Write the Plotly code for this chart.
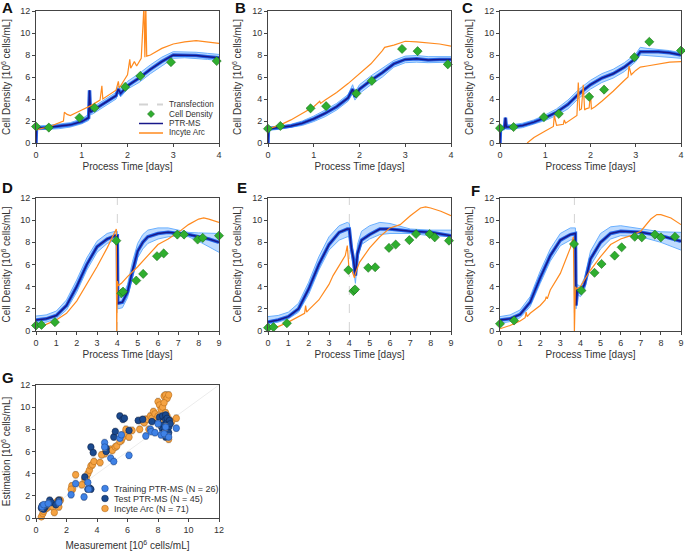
import plotly.graph_objects as go

# ---------------- data ----------------
# Panel A
a_ptr_t = [0, 0.01, 0.25, 0.5, 0.75, 1.0, 1.15, 1.17, 1.19, 1.22, 1.3, 1.5, 1.75, 1.8, 1.85, 2.0, 2.25, 2.5, 2.75, 3.0, 3.25, 3.5, 3.75, 4.0]
a_ptr_c = [0, 1.35, 1.4, 1.5, 1.65, 1.95, 2.3, 4.8, 2.8, 2.9, 3.1, 3.6, 4.3, 4.9, 4.5, 5.2, 5.9, 6.7, 7.4, 8.0, 8.0, 7.95, 7.85, 7.75]
a_ptr_u = [0, 1.55, 1.6, 1.7, 1.85, 2.2, 2.6, 4.8, 3.1, 3.2, 3.4, 3.9, 4.6, 5.2, 4.9, 5.6, 6.3, 7.1, 7.8, 8.3, 8.3, 8.25, 8.15, 8.05]
a_ptr_l = [0, 1.2, 1.25, 1.3, 1.45, 1.75, 2.05, 4.8, 2.6, 2.6, 2.8, 3.3, 4.0, 4.6, 4.2, 4.9, 5.5, 6.3, 7.0, 7.7, 7.75, 7.7, 7.6, 7.5]
a_arc_t = [0, 0.3, 0.6, 0.62, 0.68, 0.75, 1.0, 1.2, 1.4, 1.44, 1.46, 1.5, 1.75, 1.8, 1.82, 2.0, 2.05, 2.07, 2.15, 2.2, 2.3, 2.36, 2.38, 2.4, 2.42, 2.5, 2.75, 3.0, 3.25, 3.5, 3.75, 4.0]
a_arc_v = [1.2, 1.5, 2.0, 2.8, 2.6, 2.5, 3.0, 3.4, 3.9, 5.2, 4.0, 4.1, 4.8, 5.6, 5.0, 6.2, 7.6, 6.8, 7.4, 7.0, 7.7, 12.5, 7.8, 12.5, 7.9, 8.0, 8.6, 9.0, 9.2, 9.3, 9.2, 9.05]
a_cd_t = [0, 0.28, 0.95, 1.28, 1.95, 2.28, 2.95, 3.95]
a_cd_v = [1.5, 1.4, 2.3, 3.2, 5.1, 6.1, 7.35, 7.45]

# Panel B
b_ptr_t = [0, 0.01, 0.25, 0.5, 0.75, 1.0, 1.25, 1.5, 1.75, 1.85, 1.9, 2.0, 2.25, 2.5, 2.75, 3.0, 3.25, 3.5, 3.75, 4.0]
b_ptr_c = [0, 1.3, 1.4, 1.55, 1.8, 2.2, 2.7, 3.3, 4.1, 4.9, 4.2, 4.9, 5.7, 6.4, 7.2, 7.6, 7.65, 7.55, 7.6, 7.6]
b_ptr_u = [0, 1.45, 1.55, 1.7, 2.0, 2.45, 3.0, 3.6, 4.4, 5.3, 4.6, 5.3, 6.1, 6.8, 7.5, 7.9, 7.95, 7.85, 7.85, 7.85]
b_ptr_l = [0, 1.15, 1.25, 1.4, 1.6, 1.95, 2.4, 3.0, 3.8, 4.5, 3.9, 4.5, 5.3, 6.0, 6.9, 7.3, 7.35, 7.3, 7.3, 7.35]
b_arc_t = [0, 0.25, 0.5, 0.75, 1.0, 1.13, 1.15, 1.25, 1.5, 1.75, 2.0, 2.25, 2.5, 2.55, 2.75, 3.0, 3.25, 3.5, 3.75, 4.0]
b_arc_v = [1.3, 1.6, 2.1, 2.7, 3.3, 3.8, 3.6, 3.9, 4.6, 5.4, 6.3, 7.2, 8.4, 8.7, 8.9, 9.25, 9.2, 9.1, 9.0, 8.8]
b_cd_t = [0, 0.27, 0.93, 1.27, 1.93, 2.27, 2.93, 3.27, 3.93]
b_cd_v = [1.3, 1.55, 3.15, 3.35, 4.5, 5.65, 8.55, 8.35, 7.15]

# Panel C
c_ptr_t = [0, 0.01, 0.1, 0.12, 0.14, 0.25, 0.5, 0.75, 1.0, 1.25, 1.5, 1.75, 2.0, 2.25, 2.5, 2.75, 3.0, 3.1, 3.25, 3.5, 3.75, 4.0]
c_ptr_c = [0, 1.3, 1.4, 2.3, 1.45, 1.45, 1.6, 1.9, 2.3, 2.8, 3.5, 4.5, 5.3, 5.9, 6.3, 6.9, 7.7, 8.3, 8.3, 8.3, 8.2, 8.0]
c_ptr_u = [0, 1.5, 1.6, 2.3, 1.65, 1.65, 1.8, 2.1, 2.55, 3.1, 3.9, 4.9, 5.7, 6.3, 6.7, 7.3, 8.1, 8.7, 8.6, 8.5, 8.4, 8.2]
c_ptr_l = [0, 1.1, 1.2, 2.3, 1.25, 1.25, 1.4, 1.7, 2.05, 2.5, 3.1, 4.1, 4.9, 5.5, 5.9, 6.5, 7.4, 8.0, 7.95, 7.9, 7.8, 7.7]
c_arc_t = [0.6, 0.75, 1.0, 1.18, 1.2, 1.25, 1.4, 1.42, 1.45, 1.6, 1.7, 1.73, 1.76, 1.8, 1.84, 1.87, 1.9, 1.97, 2.0, 2.02, 2.1, 2.25, 2.5, 2.75, 2.83, 2.85, 2.9, 3.0, 3.1, 3.25, 3.5, 3.75, 4.0]
c_arc_v = [0.0, 0.5, 1.1, 1.5, 2.5, 1.6, 1.7, 2.1, 1.8, 2.2, 2.5, 5.5, 3.0, 3.1, 5.3, 3.0, 3.1, 3.2, 4.5, 3.1, 3.3, 3.8, 4.7, 5.7, 6.0, 7.0, 6.2, 6.6, 6.9, 7.0, 7.2, 7.35, 7.4]
c_cd_t = [0, 0.3, 0.97, 1.3, 1.97, 2.3, 2.97, 3.3, 4.0]
c_cd_v = [1.35, 1.45, 2.35, 2.65, 4.2, 4.85, 7.8, 9.2, 8.4]

# Panel D
d_ptr_t = [0, 0.5, 1.0, 1.5, 2.0, 2.5, 3.0, 3.5, 3.9, 4.0, 4.02, 4.25, 4.5, 4.75, 5.0, 5.25, 5.5, 6.0, 6.5, 7.0, 7.5, 8.0, 8.5, 9.0]
d_ptr_c = [1.0, 1.1, 1.4, 2.3, 4.0, 6.0, 7.6, 8.3, 8.6, 8.6, 2.5, 2.6, 3.5, 5.5, 7.2, 8.0, 8.5, 8.8, 8.9, 8.8, 8.7, 8.5, 8.3, 8.0]
d_ptr_u = [1.35, 1.45, 1.8, 2.8, 4.6, 6.6, 8.1, 8.8, 9.0, 9.0, 3.0, 3.1, 4.2, 6.3, 7.9, 8.7, 9.1, 9.3, 9.3, 9.1, 8.9, 8.85, 8.8, 8.8]
d_ptr_l = [0.7, 0.8, 1.1, 1.9, 3.5, 5.5, 7.1, 7.9, 8.2, 8.2, 2.0, 2.1, 3.0, 4.8, 6.6, 7.4, 7.9, 8.3, 8.5, 8.6, 8.5, 8.1, 7.6, 7.1]
d_arc_t = [0, 0.5, 1.0, 1.5, 2.0, 2.5, 3.0, 3.5, 3.9, 3.95, 3.97, 4.0, 4.05, 4.2, 4.5, 5.0, 5.5, 6.0, 6.5, 7.0, 7.5, 8.0, 8.25, 8.5, 9.0]
d_arc_v = [0.4, 0.6, 1.0, 1.6, 2.7, 4.2, 5.8, 7.5, 8.9, 9.2, 0.0, 4.5, 4.1, 4.3, 4.9, 5.8, 6.8, 7.8, 8.3, 8.9, 9.6, 10.1, 10.2, 10.1, 9.8]
d_cd_t = [0, 0.27, 0.93, 3.95, 4.2, 4.28, 4.93, 5.27, 5.95, 6.28, 6.95, 7.28, 7.95, 8.2, 9.0]
d_cd_v = [0.5, 0.55, 0.8, 8.15, 3.4, 3.55, 4.55, 5.15, 6.75, 7.0, 8.7, 8.7, 8.25, 8.4, 8.6]

# Panel E
e_ptr_t = [0, 0.5, 1.0, 1.5, 2.0, 2.5, 3.0, 3.5, 3.9, 4.0, 4.1, 4.2, 4.3, 4.4, 4.6, 5.0, 5.5, 6.0, 7.0, 8.0, 9.0]
e_ptr_c = [0.8, 1.0, 1.3, 2.0, 3.8, 6.0, 7.8, 8.9, 9.2, 9.2, 7.5, 6.5, 5.0, 7.0, 8.2, 8.7, 9.2, 9.2, 9.0, 8.9, 8.6]
e_ptr_u = [1.3, 1.4, 1.7, 2.5, 4.4, 6.7, 8.5, 9.5, 9.8, 9.7, 8.0, 7.0, 5.5, 7.8, 9.0, 9.5, 9.8, 9.7, 9.2, 9.1, 9.1]
e_ptr_l = [0.6, 0.8, 1.1, 1.7, 3.3, 5.5, 7.3, 8.2, 8.5, 8.5, 7.0, 5.8, 4.3, 6.5, 7.8, 8.3, 8.7, 8.8, 8.8, 8.6, 8.5]
e_arc_t = [0, 0.5, 1.0, 1.5, 1.8, 1.85, 1.9, 2.0, 2.5, 3.0, 3.2, 3.5, 3.8, 3.9, 4.0, 4.1, 4.25, 4.3, 4.5, 5.0, 5.5, 6.0, 6.5, 7.0, 7.5, 7.75, 8.0, 8.5, 9.0]
e_arc_v = [0.2, 0.4, 0.8, 1.3, 1.6, 2.3, 1.7, 1.9, 2.8, 4.2, 5.0, 5.9, 6.8, 7.7, 5.2, 5.6, 4.8, 5.2, 6.2, 7.5, 8.5, 9.3, 9.6, 10.4, 11.1, 11.2, 11.1, 10.8, 10.4]
e_cd_t = [0, 0.27, 0.93, 3.95, 4.2, 4.28, 4.93, 5.27, 5.95, 6.28, 6.95, 7.28, 7.95, 8.2, 8.9]
e_cd_v = [0.3, 0.35, 0.7, 5.5, 3.6, 3.75, 5.7, 5.75, 7.5, 7.8, 8.2, 8.75, 8.75, 8.45, 8.15]

# Panel F
f_ptr_t = [0, 0.5, 1.0, 1.5, 2.0, 2.5, 3.0, 3.5, 3.75, 3.78, 3.85, 4.0, 4.2, 4.5, 5.0, 5.5, 6.0, 7.0, 8.0, 9.0]
f_ptr_c = [1.0, 1.1, 1.5, 2.6, 4.8, 6.8, 8.2, 8.7, 8.8, 2.3, 3.7, 3.5, 4.2, 6.5, 8.0, 8.8, 9.0, 8.9, 8.6, 8.1]
f_ptr_u = [1.3, 1.45, 1.9, 3.1, 5.4, 7.4, 8.8, 9.3, 9.3, 2.8, 4.2, 4.0, 4.8, 7.2, 8.8, 9.4, 9.5, 9.2, 8.95, 8.9]
f_ptr_l = [0.7, 0.85, 1.2, 2.2, 4.3, 6.3, 7.7, 8.2, 8.3, 2.0, 3.3, 3.1, 3.7, 5.9, 7.4, 8.3, 8.6, 8.5, 8.0, 7.3]
f_arc_t = [0, 0.5, 1.0, 1.25, 1.3, 1.35, 1.5, 2.0, 2.25, 2.3, 2.35, 2.5, 3.0, 3.5, 3.65, 3.7, 3.75, 3.8, 4.0, 4.5, 5.0, 5.5, 6.0, 6.5, 7.0, 7.5, 7.8, 8.0, 8.5, 9.0]
f_arc_v = [0.2, 0.5, 0.9, 1.2, 1.7, 1.3, 1.6, 2.3, 2.8, 3.1, 2.9, 3.7, 5.2, 7.5, 8.5, 0.0, 4.0, 3.8, 4.0, 5.5, 6.7, 7.8, 8.3, 8.6, 9.0, 10.1, 10.5, 10.5, 10.2, 9.6]
f_cd_t = [0, 0.7, 3.68, 4.05, 4.7, 5.05, 5.7, 6.05, 6.7, 7.05, 7.7, 8.0, 8.7]
f_cd_v = [0.65, 0.95, 7.85, 3.65, 5.25, 6.05, 6.8, 7.55, 8.5, 8.45, 8.7, 8.45, 8.5]

transfection_t = {"D": 4.0, "E": 4.0, "F": 3.7}

# Panel G (scatter)
g_train_x = [0.4, 0.5, 0.8, 1.5, 2.3, 2.6, 3.15, 3.4, 3.45, 4.5, 4.5, 4.9, 5.1, 5.5, 5.6, 6.1, 7.2, 7.5, 7.55, 7.8, 8.2, 8.4, 8.5, 8.7, 9.2, 8.0]
g_train_y = [1.0, 1.2, 1.3, 1.4, 2.1, 3.1, 1.9, 3.2, 2.6, 6.8, 6.4, 5.4, 5.1, 7.2, 7.5, 5.65, 7.4, 8.0, 7.8, 7.7, 7.5, 7.6, 8.2, 7.3, 8.1, 8.5]
g_test_x = [0.35, 0.4, 0.5, 0.6, 0.7, 0.9, 1.0, 1.3, 1.5, 3.2, 3.4, 3.5, 3.6, 3.6, 3.75, 4.6, 4.6, 5.1, 5.2, 5.5, 5.7, 5.8, 6.1, 6.7, 7.0,
            7.6, 8.0, 8.1, 8.2, 8.3, 8.3, 8.4, 8.4, 8.5, 8.5, 8.55, 8.6, 8.6, 8.6, 8.7, 8.7, 8.75, 8.5, 8.3, 8.8]
g_test_y = [0.9, 1.1, 0.8, 1.0, 1.2, 1.6, 1.4, 1.2, 1.6, 3.7, 2.6, 2.7, 6.4, 2.6, 5.9, 6.3, 6.0, 7.3, 7.8, 9.2, 8.9, 9.0, 7.9, 8.8, 8.9,
            8.7, 8.6, 9.1, 8.3, 8.0, 9.2, 8.4, 7.8, 8.9, 9.3, 8.1, 7.6, 8.6, 9.0, 8.2, 7.7, 8.8, 7.3, 7.6, 8.5]
g_arc_x = [0.35, 0.45, 0.5, 0.6, 0.7, 0.8, 0.9, 1.0, 1.1, 1.2, 1.3, 1.4, 1.5, 1.6, 1.5, 2.35, 2.4, 2.6, 3.2, 3.3, 3.4, 3.5, 3.6, 3.7,
           3.8, 4.2, 4.5, 4.6, 4.9, 5.0, 5.2, 5.3, 5.6, 5.7, 5.8, 5.9, 6.1, 6.8, 6.9, 7.1, 7.2, 7.3, 7.5, 7.6, 7.7, 7.8, 7.9, 8.0,
           8.1, 8.2, 8.3, 8.4, 8.5, 8.6, 8.7, 8.4, 8.5, 8.6, 8.6, 8.7, 8.8, 8.9, 9.2, 8.3, 8.0, 7.4, 6.3, 5.5, 4.3, 3.0, 2.3]
g_arc_y = [0.1, 0.4, 0.6, 0.8, 0.9, 1.0, 1.1, 1.3, 1.0, 0.5, 1.3, 1.5, 1.6, 1.6, 1.0, 2.9, 2.6, 3.9, 3.5, 3.7, 4.0, 4.3, 4.7, 4.8,
           5.1, 5.0, 5.8, 6.1, 6.2, 6.1, 6.4, 6.5, 7.0, 7.3, 7.6, 8.0, 7.3, 8.0, 8.8, 8.6, 8.9, 8.9, 9.2, 9.0, 9.6, 9.4, 8.9, 10.5,
           10.2, 9.8, 10.0, 11.0, 11.1, 10.8, 11.1, 10.4, 9.5, 9.2, 8.3, 7.1, 8.8, 8.7, 9.0, 8.6, 9.2, 8.0, 7.9, 6.9, 5.7, 3.0, 2.6]
g_err = 0.3

# ---------------- styling ----------------
NAVY = "#18188a"
BRIGHT = "#2466ea"
BAND_LINE = "#6ab0ff"
BAND_FILL = "rgba(110,175,255,0.45)"
ORANGE = "#ff8a1e"
GREEN = "#2fae2f"
GREEN_EDGE = "#1d6e1d"
TRANS = "#d3d3d3"
C_TRAIN, C_TEST, C_ARC = "#3f82e6", "#1b4a8f", "#f5a343"
FONT = "Liberation Sans, Arial, sans-serif"

W, H = 685, 552
cols = [(36, 219), (268, 451), (500, 681)]
rows = [(11, 143), (198, 331), (385, 518)]

def px(x):
    return x / W

def py(y):
    return 1 - y / H

def xd(c):
    return [px(cols[c][0]), px(cols[c][1])]

def yd(r):
    return [py(rows[r][1]), py(rows[r][0])]

fig = go.Figure()

panels = [
    ("A", 0, 0, 4, a_ptr_t, a_ptr_c, a_ptr_u, a_ptr_l, a_arc_t, a_arc_v, a_cd_t, a_cd_v),
    ("B", 0, 1, 4, b_ptr_t, b_ptr_c, b_ptr_u, b_ptr_l, b_arc_t, b_arc_v, b_cd_t, b_cd_v),
    ("C", 0, 2, 4, c_ptr_t, c_ptr_c, c_ptr_u, c_ptr_l, c_arc_t, c_arc_v, c_cd_t, c_cd_v),
    ("D", 1, 0, 9, d_ptr_t, d_ptr_c, d_ptr_u, d_ptr_l, d_arc_t, d_arc_v, d_cd_t, d_cd_v),
    ("E", 1, 1, 9, e_ptr_t, e_ptr_c, e_ptr_u, e_ptr_l, e_arc_t, e_arc_v, e_cd_t, e_cd_v),
    ("F", 1, 2, 9, f_ptr_t, f_ptr_c, f_ptr_u, f_ptr_l, f_arc_t, f_arc_v, f_cd_t, f_cd_v),
]

TITLE_FONT = dict(size=10, color="#333", family=FONT)
axis_common = dict(showline=True, linecolor="#444", linewidth=1, mirror=True, ticks="outside",
                   ticklen=3, tickcolor="#444", showgrid=False, zeroline=False, automargin=False,
                   tickfont=dict(size=9, color="#333", family=FONT))

layout_axes = {}
for i, (name, r, c, xmax, pt, pc, pu, pl, at, av, ct, cv) in enumerate(panels):
    idx = i + 1
    xa = "x" if idx == 1 else f"x{idx}"
    ya = "y" if idx == 1 else f"y{idx}"
    if name in transfection_t:
        tt = transfection_t[name]
        fig.add_trace(go.Scatter(x=[tt, tt], y=[0, 12], mode="lines", xaxis=xa, yaxis=ya,
                                 line=dict(color=TRANS, width=1, dash="dash"), showlegend=False, hoverinfo="skip"))
    fig.add_trace(go.Scatter(x=pt, y=pl, mode="lines", xaxis=xa, yaxis=ya,
                             line=dict(color=BAND_LINE, width=1), showlegend=False, hoverinfo="skip"))
    fig.add_trace(go.Scatter(x=pt, y=pu, mode="lines", xaxis=xa, yaxis=ya, fill="tonexty", fillcolor=BAND_FILL,
                             line=dict(color=BAND_LINE, width=1), showlegend=False, hoverinfo="skip"))
    fig.add_trace(go.Scatter(x=pt, y=pc, mode="lines", xaxis=xa, yaxis=ya,
                             line=dict(color=BRIGHT, width=3.5), showlegend=False, hoverinfo="skip"))
    fig.add_trace(go.Scatter(x=pt, y=pc, mode="lines", xaxis=xa, yaxis=ya, name="PTR-MS",
                             line=dict(color=NAVY, width=1.5), showlegend=False))
    fig.add_trace(go.Scatter(x=at, y=av, mode="lines", xaxis=xa, yaxis=ya, name="Incyte Arc",
                             line=dict(color=ORANGE, width=1.2), showlegend=False))
    fig.add_trace(go.Scatter(x=ct, y=cv, mode="markers", xaxis=xa, yaxis=ya, name="Cell Density", cliponaxis=False,
                             marker=dict(symbol="diamond", size=7, color=GREEN, line=dict(color=GREEN_EDGE, width=0.6)),
                             showlegend=False))

    xkey = "xaxis" if idx == 1 else f"xaxis{idx}"
    ykey = "yaxis" if idx == 1 else f"yaxis{idx}"
    layout_axes[xkey] = dict(axis_common, domain=xd(c), anchor=ya, range=[0, xmax], dtick=1,
                             title=dict(text="Process Time [days]", font=TITLE_FONT, standoff=4))
    layout_axes[ykey] = dict(axis_common, domain=yd(r), anchor=xa, range=[0, 12], dtick=2,
                             title=dict(text="Cell Density [10<sup>6</sup> cells/mL]", font=TITLE_FONT, standoff=8))

# Panel G
gx, gy = "x7", "y7"
fig.add_trace(go.Scatter(x=[0, 12], y=[0, 12], mode="lines", xaxis=gx, yaxis=gy,
                         line=dict(color="#ececec", width=1), showlegend=False, hoverinfo="skip"))
errstyle = dict(type="constant", value=g_err, color="#999", thickness=0.8, width=2)
for gxv, gyv, col, edge, nm in [(g_arc_x, g_arc_y, C_ARC, "#b86d1a", "Incyte Arc (N = 71)"),
                               (g_test_x, g_test_y, C_TEST, "#0d2550", "Test PTR-MS (N = 45)"),
                               (g_train_x, g_train_y, C_TRAIN, "#1e4c99", "Training PTR-MS (N = 26)")]:
    fig.add_trace(go.Scatter(x=gxv, y=gyv, mode="markers", xaxis=gx, yaxis=gy, name=nm,
                             error_y=errstyle, cliponaxis=False,
                             marker=dict(size=6.5, color=col, line=dict(color=edge, width=0.6)),
                             showlegend=False))
layout_axes["xaxis7"] = dict(axis_common, domain=xd(0), anchor=gy, range=[0, 12], dtick=2,
                             title=dict(text="Measurement [10<sup>6</sup> cells/mL]", font=TITLE_FONT, standoff=8))
layout_axes["yaxis7"] = dict(axis_common, domain=yd(2), anchor=gx, range=[0, 12], dtick=2,
                             title=dict(text="Estimation [10<sup>6</sup> cells/mL]", font=TITLE_FONT, standoff=8))

# ---------------- manual legends ----------------
shapes = []
annotations = []
LEG_FONT = dict(size=8.2, color="#333", family=FONT)

# Legend of panel A
legA = [("Transfection", "dash", TRANS, 104.5), ("Cell Density", "diamond", GREEN, 114),
        ("PTR-MS", "line", NAVY, 123.5), ("Incyte Arc", "line", ORANGE, 133)]
for label, kind, col, yy in legA:
    if kind in ("dash", "line"):
        shapes.append(dict(type="line", xref="paper", yref="paper", x0=px(139), x1=px(163), y0=py(yy), y1=py(yy),
                           line=dict(color=col, width=1.5 if kind == "line" else 2, dash="dash" if kind == "dash" else "solid")))
    else:
        cx, cy, s = 151, yy, 3.5
        path = f"M {px(cx)},{py(cy - s)} L {px(cx + s)},{py(cy)} L {px(cx)},{py(cy + s)} L {px(cx - s)},{py(cy)} Z"
        shapes.append(dict(type="path", xref="paper", yref="paper", path=path, fillcolor=col,
                           line=dict(color=GREEN_EDGE, width=0.6)))
    annotations.append(dict(text=label, x=px(167), y=py(yy), xref="paper", yref="paper", showarrow=False,
                            xanchor="left", yanchor="middle", font=LEG_FONT))

# Legend of panel G
legG = [("Training PTR-MS (N = 26)", C_TRAIN, "#1e4c99", 488.5), ("Test PTR-MS (N = 45)", C_TEST, "#0d2550", 498.5),
        ("Incyte Arc (N = 71)", C_ARC, "#b86d1a", 508.5)]
for label, col, edge, yy in legG:
    r = 3.3
    shapes.append(dict(type="circle", xref="paper", yref="paper", x0=px(105 - r), x1=px(105 + r),
                       y0=py(yy + r), y1=py(yy - r), fillcolor=col, line=dict(color=edge, width=0.6)))
    annotations.append(dict(text=label, x=px(112), y=py(yy), xref="paper", yref="paper", showarrow=False,
                            xanchor="left", yanchor="middle", font=dict(size=9, color="#333", family=FONT)))

letters = [("A", 7, 8), ("B", 240, 8), ("C", 467, 8), ("D", 8, 187), ("E", 242, 187), ("F", 475, 190), ("G", 8, 377)]
for t, lx, ly in letters:
    annotations.append(dict(text=f"<b>{t}</b>", x=px(lx), y=py(ly), xref="paper", yref="paper", showarrow=False,
                            xanchor="center", yanchor="middle", font=dict(size=15, color="#111", family=FONT)))

fig.update_layout(
    width=W, height=H, margin=dict(l=0, r=0, t=0, b=0),
    paper_bgcolor="white", plot_bgcolor="white",
    font=dict(family=FONT, color="#333"),
    showlegend=False,
    shapes=shapes,
    annotations=annotations,
    **layout_axes,
)

fig.write_html("out.html", config={"displayModeBar": False},
               post_script="document.body.style.margin='0px';document.body.style.overflow='hidden';")
